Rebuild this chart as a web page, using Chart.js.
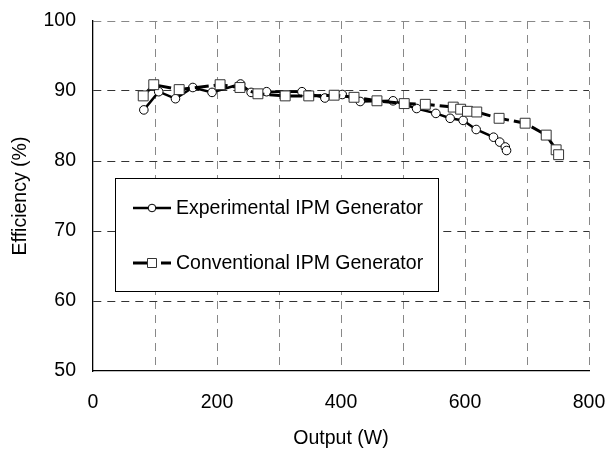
<!DOCTYPE html>
<html>
<head>
<meta charset="utf-8">
<script src="https://cdn.jsdelivr.net/npm/chart.js@4/dist/chart.umd.min.js"></script>
<style>
  html, body { margin: 0; padding: 0; background: #fff; }
  #wrap { width: 606px; height: 451px; }
</style>
</head>
<body>
<div id="wrap"><canvas id="chart" width="606" height="451"></canvas></div>
<script>
// Values
const expLabel = 'Experimental IPM Generator';
const expX = [82, 106, 133, 161, 192, 238, 255, 280, 337, 374, 402, 431, 484, 522, 553, 576, 597, 618, 646, 656, 665, 667];
const expY = [87.3, 89.9, 88.9, 90.5, 89.8, 91.0, 89.8, 89.9, 89.9, 89.0, 89.5, 88.5, 88.6, 87.5, 86.8, 86.1, 85.8, 84.5, 83.4, 82.7, 82.0, 81.5];

const convLabel = 'Conventional IPM Generator';
const convX = [81, 98, 139, 205, 237, 266, 310, 348, 389, 421, 458, 502, 536, 581, 593, 604, 619, 655, 697, 731, 747, 751];
const convY = [89.3, 90.9, 90.2, 90.9, 90.5, 89.6, 89.3, 89.3, 89.4, 89.1, 88.6, 88.2, 88.1, 87.7, 87.4, 87.1, 87.0, 86.1, 85.4, 83.7, 81.6, 80.9];

const xMin = 0, xMax = 800, xStep = 100, xLabelEvery = 200;
const yMin = 50, yMax = 100, yStep = 10;

const toPoints = (xs, ys) => xs.map((x, i) => ({ x, y: ys[i] }));

Chart.defaults.font.family = '"Liberation Sans", Arial, sans-serif';
Chart.defaults.font.size = 19.5;
Chart.defaults.color = '#000';

// Legend box drawn inside the plot, like the original
const boxLegend = {
  id: 'boxLegend',
  afterDraw(chart) {
    const ctx = chart.ctx;
    const ds = chart.data.datasets;
    ctx.save();
    ctx.fillStyle = '#fff';
    ctx.fillRect(115, 178, 323, 113);
    ctx.strokeStyle = '#000';
    ctx.lineWidth = 1;
    ctx.strokeRect(115.5, 178.5, 323, 113);

    const rows = [208, 263];
    ds.forEach((d, i) => {
      const y = rows[i];
      ctx.strokeStyle = '#000';
      ctx.lineWidth = d.borderWidth;
      ctx.setLineDash([]);
      ctx.beginPath();
      if (d.pointStyle === 'rect') {
        ctx.moveTo(133, y); ctx.lineTo(147, y);
        ctx.moveTo(161, y); ctx.lineTo(171, y);
      } else {
        ctx.moveTo(133, y); ctx.lineTo(171, y);
      }
      ctx.stroke();
      ctx.lineWidth = 1;
      ctx.fillStyle = '#fff';
      ctx.strokeStyle = d.pointBorderColor;
      ctx.beginPath();
      if (d.pointStyle === 'rect') {
        ctx.rect(147.5, y - 4.5, 9, 9);
      } else {
        ctx.arc(152, y, 3.8, 0, Math.PI * 2);
      }
      ctx.fill();
      ctx.stroke();
      ctx.fillStyle = '#000';
      ctx.font = '19.5px "Liberation Sans", Arial, sans-serif';
      ctx.textBaseline = 'middle';
      ctx.fillText(d.label, 176, y + 1);
    });
    ctx.restore();
  }
};

new Chart(document.getElementById('chart'), {
  type: 'line',
  data: {
    datasets: [
      {
        label: expLabel,
        data: toPoints(expX, expY),
        borderColor: '#000',
        borderWidth: 2.5,
        pointStyle: 'circle',
        pointRadius: 4.3,
        pointBackgroundColor: '#fff',
        pointBorderColor: '#000',
        pointBorderWidth: 1,
        tension: 0,
        order: 2
      },
      {
        label: convLabel,
        data: toPoints(convX, convY),
        borderColor: '#000',
        borderWidth: 3,
        borderDash: [14, 5],
        pointStyle: 'rect',
        pointRadius: 7,
        pointBackgroundColor: '#fff',
        pointBorderColor: '#333',
        pointBorderWidth: 1,
        tension: 0,
        order: 1
      }
    ]
  },
  options: {
    responsive: false,
    animation: false,
    layout: { padding: { top: 21, right: 17, left: 0, bottom: 0 } },
    plugins: {
      legend: { display: false },
      tooltip: { enabled: false }
    },
    scales: {
      x: {
        type: 'linear',
        min: xMin,
        max: xMax,
        afterFit: (s) => { s.height = 80; s.paddingLeft = 0; s.paddingRight = 0; },
        ticks: {
          stepSize: xStep,
          padding: 20,
          maxRotation: 0,
          autoSkip: false,
          callback: (v) => (v % xLabelEvery === 0 ? v : '')
        },
        grid: {
          drawTicks: false,
          color: (c) => (c.tick && c.tick.value === xMin ? 'rgba(0,0,0,0)' : '#888'),
          lineWidth: 1
        },
        border: { display: true, color: '#000', width: 1.3, dash: [8, 6] },
        title: { display: true, text: 'Output (W)', padding: { top: 0, bottom: 1 } }
      },
      y: {
        min: yMin,
        max: yMax,
        afterFit: (s) => { s.width = 93; s.paddingTop = 0; s.paddingBottom = 0; },
        ticks: { stepSize: yStep, padding: 17 },
        grid: {
          drawTicks: false,
          color: (c) => (c.tick && c.tick.value === yMin ? 'rgba(0,0,0,0)' : (c.tick && c.tick.value === yMax ? '#888' : '#333')),
          lineWidth: 1
        },
        border: { display: true, color: '#000', width: 1.3, dash: [8, 6] },
        title: { display: true, text: 'Efficiency (%)', padding: { top: 9, bottom: 0 } }
      }
    }
  },
  plugins: [boxLegend]
});
</script>
</body>
</html>
